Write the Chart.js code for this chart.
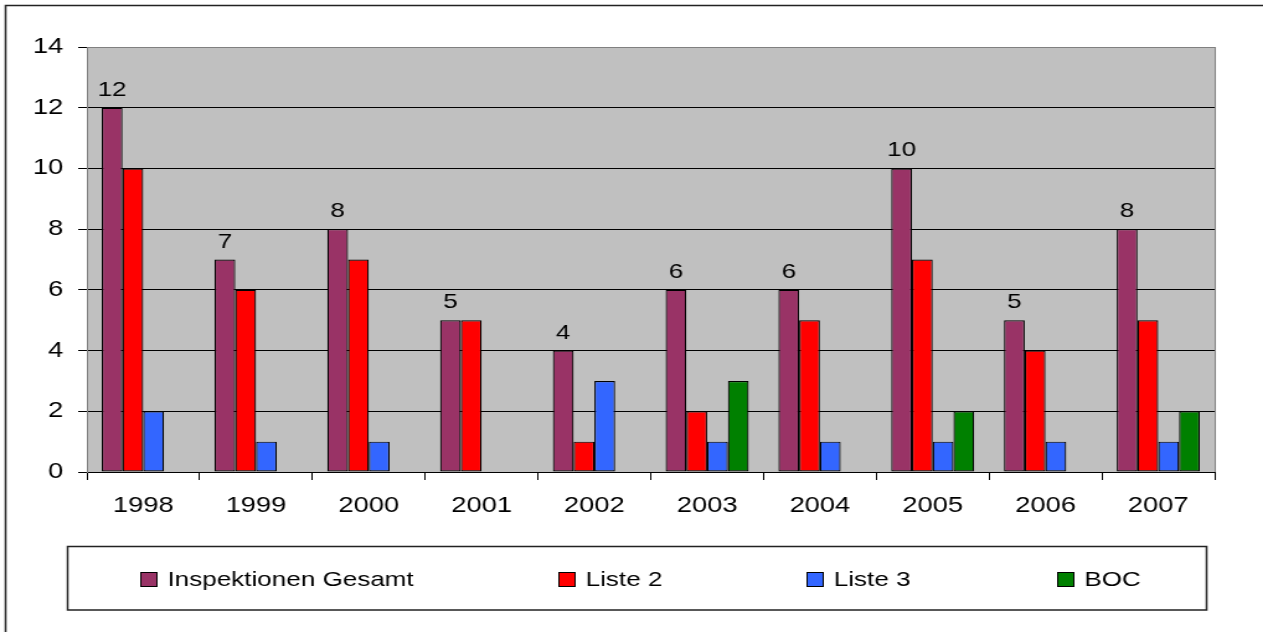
<!DOCTYPE html>
<html>
<head>
<meta charset="utf-8">
<script src="https://cdn.jsdelivr.net/npm/chart.js@4"></script>
<style>
    html, body { margin: 0; padding: 0; background: #fff; overflow: hidden; }
    #wrap { width: 1018px; height: 632px; transform: scaleX(1.2407); transform-origin: 0 0; }
</style>
</head>
<body>
<div id="wrap">
    <canvas id="barChart" width="1018" height="632"></canvas>
</div>
<script>
const years = ['1998', '1999', '2000', '2001', '2002', '2003', '2004', '2005', '2006', '2007'];
const inspektionen = [12, 7, 8, 5, 4, 6, 6, 10, 5, 8];
const liste2 = [10, 6, 7, 5, 1, 2, 5, 7, 4, 5];
const liste3 = [2, 1, 1, null, 3, 1, 1, 1, 1, 1];
const boc = [null, null, null, null, null, 3, null, 2, null, 2];
const seriesNames = ['Inspektionen Gesamt', 'Liste 2', 'Liste 3', 'BOC'];
const seriesColors = ['#993366', '#FF0000', '#3366FF', '#008000'];

const FONT = "'Liberation Sans', Arial, sans-serif";

// grey plot area + frame lines
const plotBg = {
    id: 'plotBg',
    beforeDraw(chart) {
        const { ctx, chartArea: a } = chart;
        ctx.save();
        ctx.fillStyle = '#C0C0C0';
        ctx.fillRect(a.left, a.top, a.right - a.left, a.bottom - a.top);
        // outer frame (only left and top visible)
        ctx.strokeStyle = '#222';
        ctx.lineWidth = 1.5;
        ctx.strokeRect(4.5, 5.5, chart.width + 20, chart.height + 20);
        ctx.restore();
    },
    beforeDatasetsDraw(chart) {
        const { ctx, chartArea: a } = chart;
        ctx.save();
        ctx.strokeStyle = '#808080';
        ctx.lineWidth = 1;
        ctx.beginPath();
        ctx.moveTo(Math.round(a.right) + 0.5, a.top);
        ctx.lineTo(Math.round(a.right) + 0.5, a.bottom);
        ctx.stroke();
        ctx.restore();
    }
};

// value labels above first series
const valueLabels = {
    id: 'valueLabels',
    afterDatasetsDraw(chart) {
        const { ctx } = chart;
        const meta = chart.getDatasetMeta(0);
        ctx.save();
        ctx.font = '21px ' + FONT;
        ctx.fillStyle = '#000';
        ctx.textAlign = 'center';
        ctx.textBaseline = 'alphabetic';
        meta.data.forEach((bar, i) => {
            ctx.fillText(String(inspektionen[i]), bar.x, bar.y - 12);
        });
        ctx.restore();
    }
};

// boxed legend like the excel one
const legendPositions = [113, 450, 650, 852];
const boxLegend = {
    id: 'boxLegend',
    afterDraw(chart) {
        const { ctx } = chart;
        ctx.save();
        ctx.strokeStyle = '#222';
        ctx.lineWidth = 1.5;
        ctx.strokeRect(54.5, 546.5, 918, 63.5);
        ctx.font = '21px ' + FONT;
        ctx.textBaseline = 'middle';
        ctx.textAlign = 'left';
        seriesNames.forEach((name, i) => {
            const x = legendPositions[i];
            ctx.fillStyle = seriesColors[i];
            ctx.fillRect(x, 572, 13, 14.5);
            ctx.strokeStyle = '#000';
            ctx.lineWidth = 1;
            ctx.strokeRect(x + 0.5, 572.5, 13, 14);
            ctx.fillStyle = '#000';
            ctx.fillText(name, x + 22, 580);
        });
        ctx.restore();
    }
};

const datasets = [inspektionen, liste2, liste3, boc].map((values, i) => ({
    label: seriesNames[i],
    data: values,
    backgroundColor: seriesColors[i],
    borderColor: '#000',
    borderWidth: 1.2,
    borderSkipped: false,
    categoryPercentage: 0.736,
    barPercentage: 1
}));

const config = {
    type: 'bar',
    data: { labels: years, datasets: datasets },
    options: {
        responsive: false,
        animation: false,
        devicePixelRatio: 1,
        layout: { padding: { top: 47, right: 39, left: 0, bottom: 0 } },
        plugins: {
            legend: { display: false },
            tooltip: { enabled: false },
            title: { display: false }
        },
        scales: {
            x: {
                afterFit: (s) => { s.height = 160; },
                grid: {
                    drawOnChartArea: false,
                    drawTicks: true,
                    tickLength: 8,
                    color: '#000',
                    offset: true
                },
                border: { color: '#000', width: 1 },
                ticks: {
                    color: '#000',
                    font: { family: FONT, size: 22 },
                    padding: 13,
                    maxRotation: 0
                }
            },
            y: {
                min: 0,
                max: 14,
                afterFit: (s) => { s.width = 70; },
                grid: {
                    color: (c) => (c.tick && c.tick.value === 14 ? '#808080' : '#000'),
                    tickColor: '#000',
                    tickLength: 7
                },
                border: { color: '#808080', width: 1 },
                ticks: {
                    stepSize: 2,
                    color: '#000',
                    font: { family: FONT, size: 22 },
                    padding: 12
                }
            }
        }
    },
    plugins: [plotBg, valueLabels, boxLegend]
};

window.onload = function () {
    const ctx = document.getElementById('barChart').getContext('2d');
    new Chart(ctx, config);
};
</script>
</body>
</html>
